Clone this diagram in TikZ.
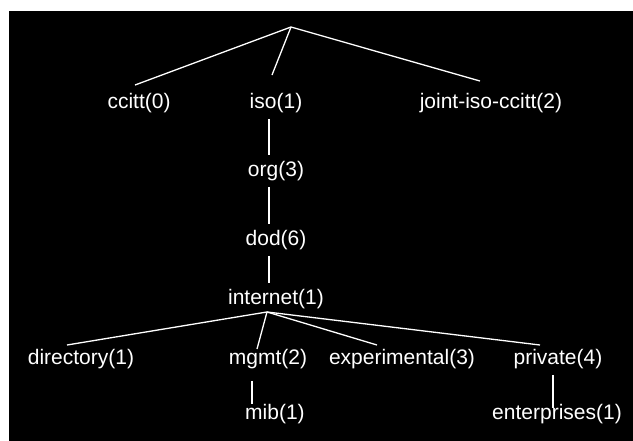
\documentclass[tikz,border=0pt]{standalone}
\usepackage{fontspec}
\setmainfont{Liberation Sans}
\begin{document}
\begin{tikzpicture}[x=1pt,y=-1pt,
  oid/.style={text=white,inner xsep=0pt,inner ysep=6pt,font=\fontsize{21}{25}\selectfont},
  link/.style={draw=white,line width=1.3pt}]

\def\rootX{291}
\def\rootY{27}
\def\topY{103}
\def\stemX{276}
\def\leafY{359}
\def\subY{414}

\useasboundingbox (0,0) rectangle (633,441);
\fill[white] (0,0) rectangle (633,441);
\fill[black] (9,11) rectangle (633,441);

\coordinate (root) at (\rootX,\rootY);
\node[oid] (ccitt) at (139,\topY) {ccitt(0)};
\node[oid] (iso) at (\stemX,\topY) {iso(1)};
\node[oid] (joint) at (491,\topY) {joint-iso-ccitt(2)};
\node[oid] (org) at (\stemX,171) {org(3)};
\node[oid] (dod) at (\stemX,240) {dod(6)};
\node[oid] (internet) at (\stemX,299) {internet(1)};
\node[oid] (directory) at (81,\leafY) {directory(1)};
\node[oid] (mgmt) at (268,\leafY) {mgmt(2)};
\node[oid] (experimental) at (402,\leafY) {experimental(3)};
\node[oid] (private) at (558,\leafY) {private(4)};
\node[oid] (mib) at (275,\subY) {mib(1)};
\node[oid] (enterprises) at (557,\subY) {enterprises(1)};

\draw[link] (root) -- ([xshift=-4pt,yshift=2pt]ccitt.north);
\draw[link] (root) -- ([xshift=-4pt,yshift=12pt]iso.north);
\draw[link] (root) -- ([xshift=-11pt,yshift=6pt]joint.north);

\draw[link] ([xshift=-7pt]iso.south) -- ([xshift=-7pt]org.north);
\draw[link] ([xshift=-7pt]org.south) -- ([xshift=-7pt]dod.north);
\draw[link] ([xshift=-7pt]dod.south) -- ([xshift=-7pt]internet.north);

\coordinate (hub) at ([xshift=-9pt,yshift=3pt]internet.south);
\draw[link] (hub) -- ([xshift=-14pt,yshift=-2pt]directory.north);
\draw[link] (hub) -- ([xshift=-11pt,yshift=-6pt]mgmt.north);
\draw[link] (hub) -- ([xshift=-25pt,yshift=-2pt]experimental.north);
\draw[link] (hub) -- ([xshift=-18pt,yshift=-2pt]private.north);

\draw[link] ([xshift=-16pt,yshift=-6pt]mgmt.south) -- ([xshift=-23pt,yshift=-6pt]mib.north);
\draw[link] ([xshift=-5pt]private.south) -- ([xshift=-4pt,yshift=-10pt]enterprises.north);

\end{tikzpicture}
\end{document}
